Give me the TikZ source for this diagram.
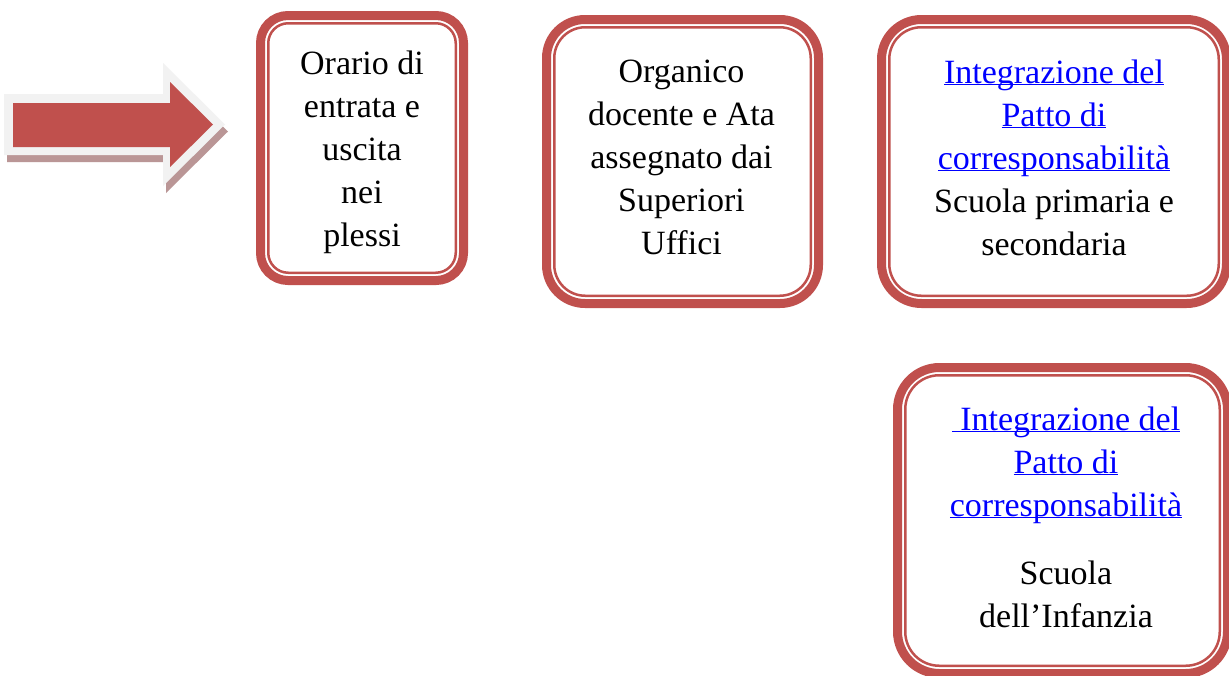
\documentclass[tikz,border=0pt]{standalone}
\usepackage{fontspec}
\setmainfont{Liberation Serif}

\definecolor{boxred}{RGB}{192,80,77}
\definecolor{linkblue}{RGB}{0,0,255}
\definecolor{arrowrim}{RGB}{242,242,242}
\definecolor{arrowshade}{RGB}{186,150,150}

\newcommand{\linkline}[1]{\textcolor{linkblue}{\underline{\smash{#1}}}}

\begin{document}
\begin{tikzpicture}[x=1pt,y=-1pt]
  \tikzset{BoxStyle/.style = {
    shape         = rectangle,
    draw          = boxred,
    fill          = white,
    line width    = 9pt,
    inner sep     = 0pt,
    outer sep     = 0pt
    }
  }
  \tikzset{InnerStyle/.style = {
    draw          = boxred,
    line width    = 2.5pt
    }
  }
  \tikzset{TextStyle/.style = {
    anchor        = base,
    text width    = 340pt,
    align         = flush center,
    inner sep     = 0pt,
    text          = black,
    font          = \fontsize{34}{43}\selectfont
    }
  }

  \clip (0,0) rectangle (1229,675);
  \fill[white] (0,0) rectangle (1229,675);

  % arrow
  \fill[arrowshade] (7,101) -- (166,101) -- (166,70) -- (228,131.5) -- (166,193) -- (166,162) -- (7,162) -- cycle;
  \fill[arrowrim] (4,94) -- (163,94) -- (163,63) -- (225,124.5) -- (163,186) -- (163,155) -- (4,155) -- cycle;
  \fill[boxred] (13,103) -- (170,103) -- (170,82) -- (213,124.5) -- (170,167) -- (170,147) -- (13,147) -- cycle;

  % boxes
	\node[BoxStyle, minimum width=203pt, minimum height=265pt, rounded corners=27.5pt](B1) at (362, 148) {};
	\node[BoxStyle, minimum width=272pt, minimum height=284pt, rounded corners=38.5pt](B2) at (682.5, 161.5) {};
	\node[BoxStyle, minimum width=345pt, minimum height=284pt, rounded corners=40pt](B3) at (1054, 161.5) {};
	\node[BoxStyle, minimum width=330pt, minimum height=306pt, rounded corners=42pt](B4) at (1062.5, 520.5) {};
	\draw[InnerStyle, rounded corners=20pt]([shift={(7.75,7.75)}]B1.north west) rectangle ([shift={(-7.75,-7.75)}]B1.south east);
	\draw[InnerStyle, rounded corners=31pt]([shift={(7.75,7.75)}]B2.north west) rectangle ([shift={(-7.75,-7.75)}]B2.south east);
	\draw[InnerStyle, rounded corners=32pt]([shift={(7.75,7.75)}]B3.north west) rectangle ([shift={(-7.75,-7.75)}]B3.south east);
	\draw[InnerStyle, rounded corners=34pt]([shift={(7.75,7.75)}]B4.north west) rectangle ([shift={(-7.75,-7.75)}]B4.south east);

  % texts
	\node[TextStyle](T1) at (362, 74) {Orario di\\entrata e\\uscita\\nei\\plessi};
	\node[TextStyle](T2) at (681.5, 82) {Organico\\docente e Ata\\assegnato dai\\Superiori\\Uffici};
	\node[TextStyle](T3) at (1054, 83) {\linkline{Integrazione del}\\\linkline{Patto di}\\\linkline{corresponsabilità}\\Scuola primaria e\\secondaria};
	\node[TextStyle](T4) at (1066, 430) {\linkline{\ Integrazione del}\\\linkline{Patto di}\\\linkline{corresponsabilità}\\[25pt]Scuola\\dell’Infanzia};
\end{tikzpicture}
\end{document}
